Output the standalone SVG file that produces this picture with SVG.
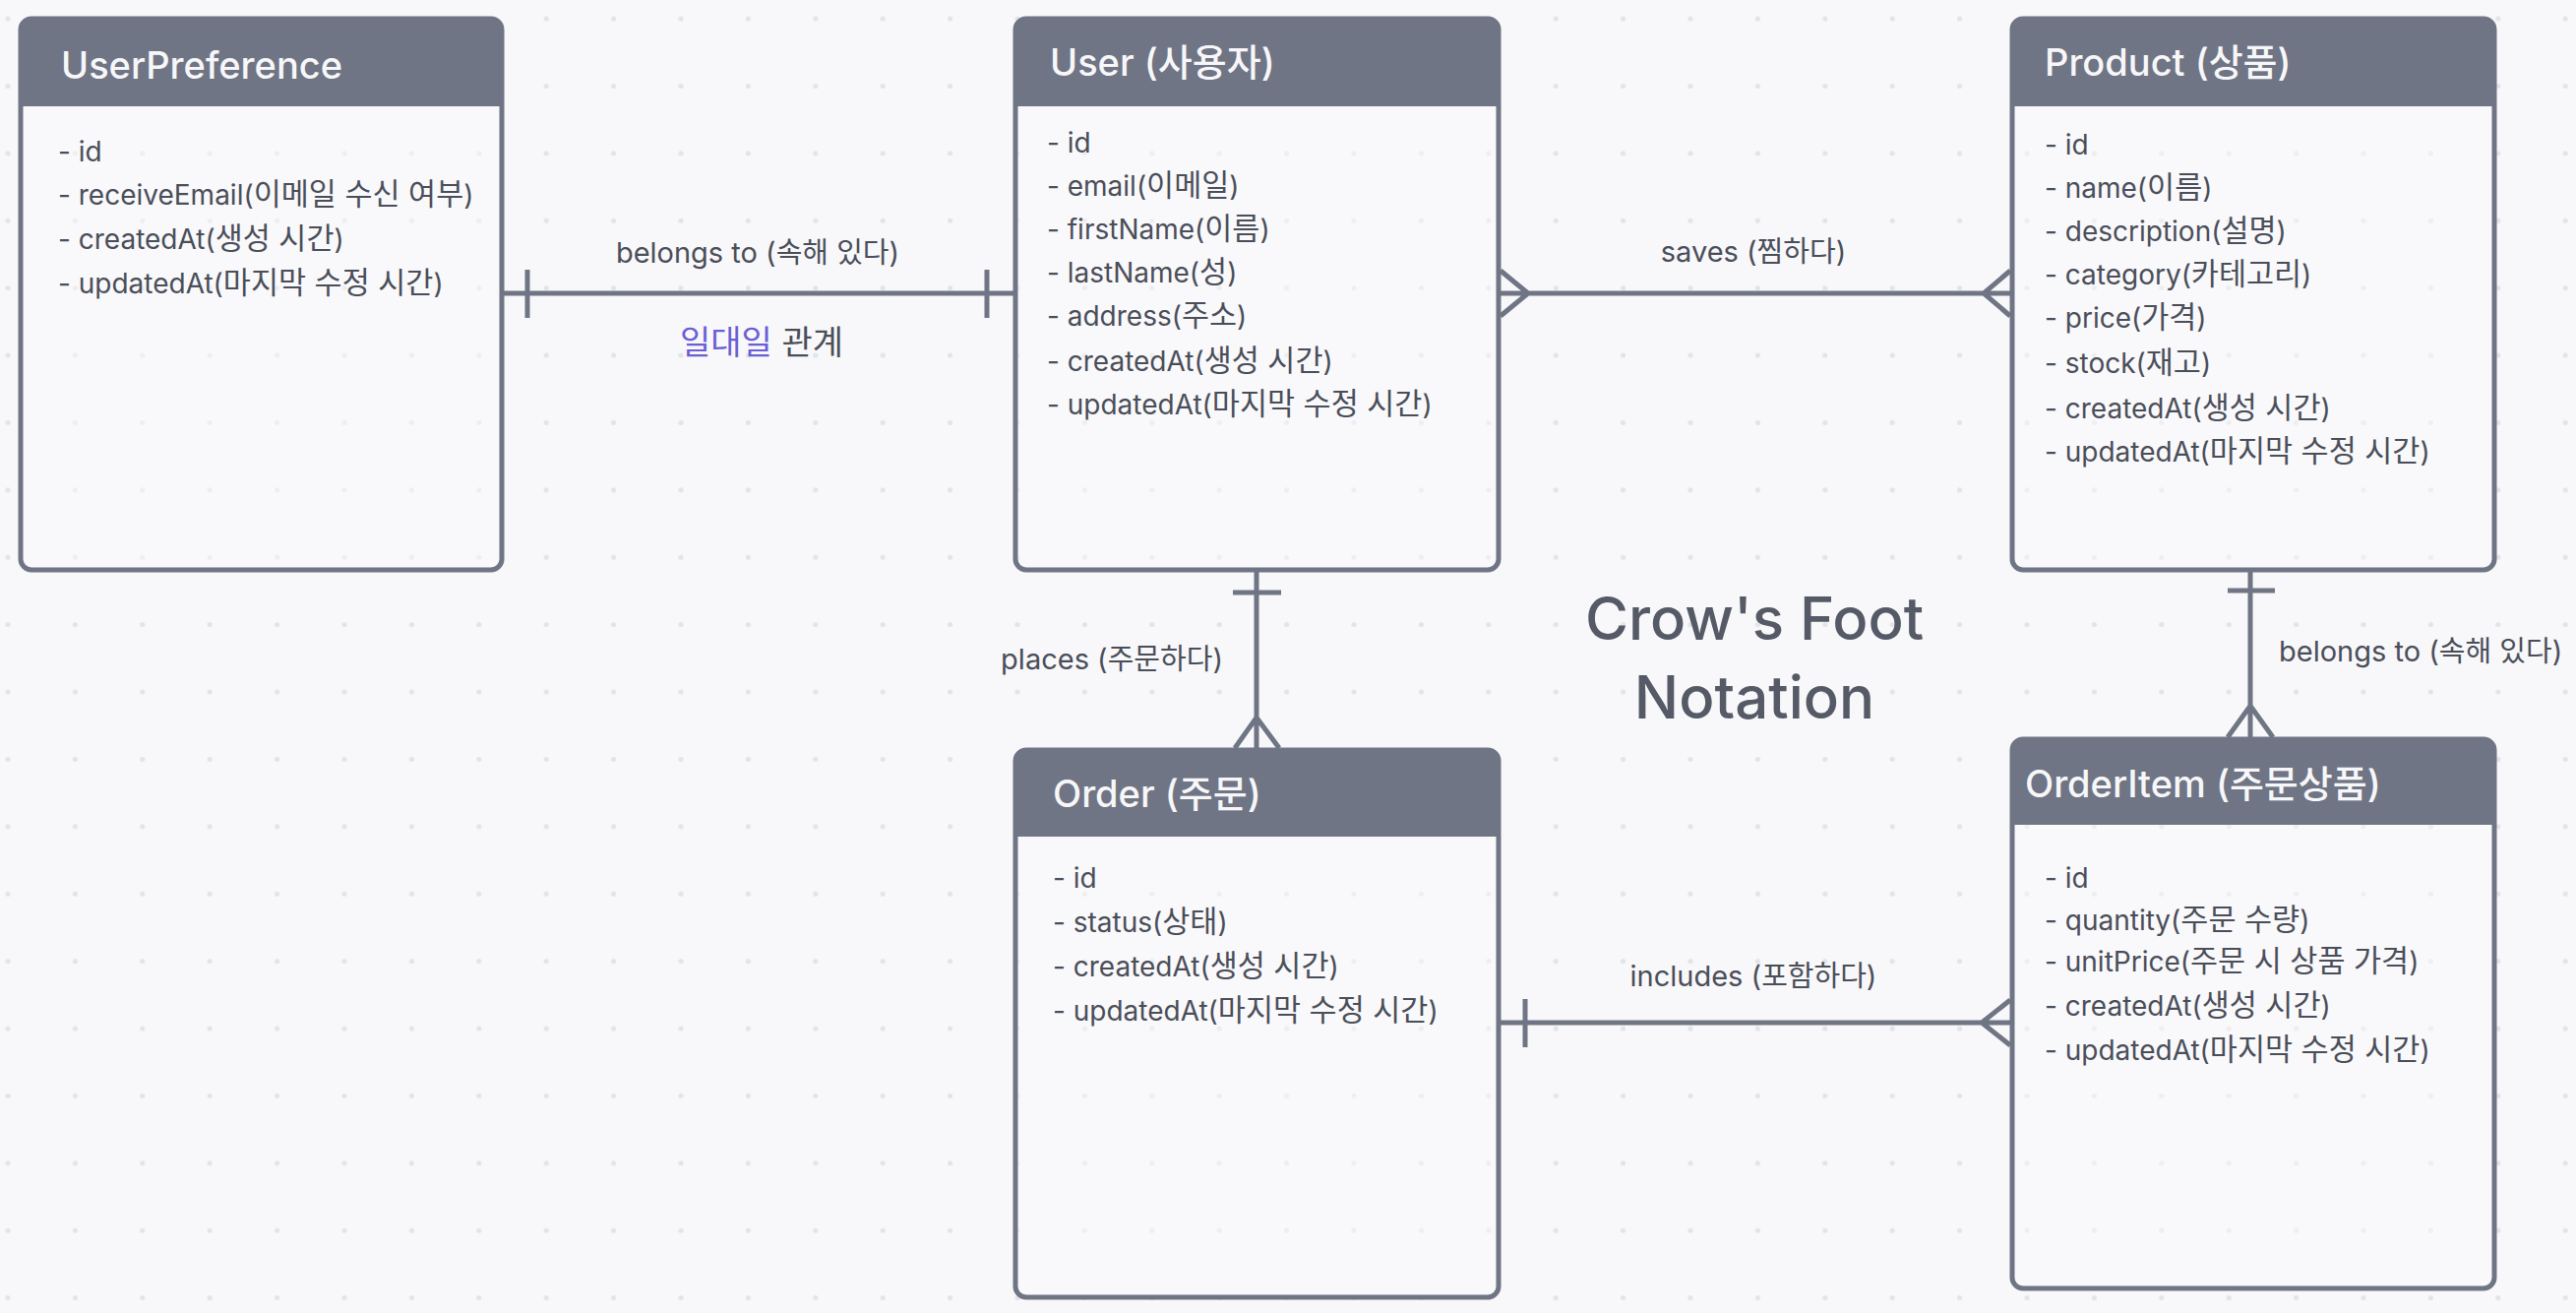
<svg xmlns="http://www.w3.org/2000/svg" width="2618" height="1334" viewBox="0 0 2618 1334">
<defs>
<pattern id="dots" x="-26.2" y="-15.2" width="68.4" height="68.4" patternUnits="userSpaceOnUse">
<circle cx="34.2" cy="34.2" r="2.6" fill="#e3e4e8"/>
</pattern>
<style>
text{font-family:"Inter","Noto Sans CJK KR",sans-serif;}
.body{fill:#fafbfc;fill-opacity:0.45;stroke:#6f7584;stroke-width:5;}
.head{fill:#6f7584;}
.title{font-size:38px;fill:#f7f7f9;font-weight:500;}
.row{font-size:28px;fill:#4a4e59;}
.k{font-size:30.5px;}
.lbl{font-size:29px;fill:#4a4e59;}
.rel{font-size:34px;fill:#4a4e59;}
.big{font-size:60px;fill:#555a66;font-weight:500;}
.ln{stroke:#6f7584;stroke-width:5;fill:none;stroke-linejoin:miter;}
</style>
</defs>
<rect width="2618" height="1334" fill="#f8f8fa"/>
<rect width="2618" height="1334" fill="url(#dots)"/>

<g id="connectors">
<path class="ln" d="M511,298 H1032 M536,274 V323 M1003,274 V323"/>
<path class="ln" d="M1523,298 H2045 M1525,275 L1553,298 L1525,321 M2043,275 L2016,298 L2043,321"/>
<path class="ln" d="M1277,579 V762 M1253,602 H1302 M1255,760 L1277,729 L1300,760"/>
<path class="ln" d="M2287,579 V751 M2264,600 H2312 M2264,749 L2287,717 L2310,749"/>
<path class="ln" d="M1523,1039 H2045 M1550,1015 V1064 M2043,1016 L2014,1039 L2043,1062"/>
<text class="lbl" x="770" y="267" text-anchor="middle">belongs to (속해 있다)</text>
<text class="rel" x="774" y="360" text-anchor="middle"><tspan fill="#6b5ed6">일대일</tspan> 관계</text>
<text class="lbl" x="1782" y="266" text-anchor="middle">saves (찜하다)</text>
<text class="lbl" x="1243" y="680" text-anchor="end">places (주문하다)</text>
<text class="lbl" x="2316" y="672">belongs to (속해 있다)</text>
<text class="lbl" x="1782" y="1002" text-anchor="middle">includes (포함하다)</text>
</g>

<g id="note">
<text class="big" x="1783" y="650" text-anchor="middle">Crow's Foot</text>
<text class="big" x="1783" y="730" text-anchor="middle">Notation</text>
</g>

<g id="UserPreference">
<rect class="body" x="21" y="19" width="489" height="560" rx="11"/>
<path class="head" d="M21,108 V30 Q21,19 32,19 H499 Q510,19 510,30 V108 Z"/>
<text class="title" x="62" y="80">UserPreference</text>
<text class="row" x="59" y="164">- id</text>
<text class="row" x="59" y="208">- receiveEmail(<tspan class="k">이메일 수신 여부</tspan>)</text>
<text class="row" x="59" y="253">- createdAt(<tspan class="k">생성 시간</tspan>)</text>
<text class="row" x="59" y="298">- updatedAt(<tspan class="k">마지막 수정 시간</tspan>)</text>
</g>

<g id="User">
<rect class="body" x="1032" y="19" width="491" height="560" rx="11"/>
<path class="head" d="M1032,108 V30 Q1032,19 1043,19 H1512 Q1523,19 1523,30 V108 Z"/>
<text class="title" x="1067" y="77">User (사용자)</text>
<text class="row" x="1064" y="155">- id</text>
<text class="row" x="1064" y="199">- email(<tspan class="k">이메일</tspan>)</text>
<text class="row" x="1064" y="243">- firstName(<tspan class="k">이름</tspan>)</text>
<text class="row" x="1064" y="287">- lastName(<tspan class="k">성</tspan>)</text>
<text class="row" x="1064" y="331">- address(<tspan class="k">주소</tspan>)</text>
<text class="row" x="1064" y="377">- createdAt(<tspan class="k">생성 시간</tspan>)</text>
<text class="row" x="1064" y="421">- updatedAt(<tspan class="k">마지막 수정 시간</tspan>)</text>
</g>

<g id="Product">
<rect class="body" x="2045" y="19" width="490" height="560" rx="11"/>
<path class="head" d="M2045,108 V30 Q2045,19 2056,19 H2524 Q2535,19 2535,30 V108 Z"/>
<text class="title" x="2078" y="77">Product (상품)</text>
<text class="row" x="2078" y="157">- id</text>
<text class="row" x="2078" y="201">- name(<tspan class="k">이름</tspan>)</text>
<text class="row" x="2078" y="245">- description(<tspan class="k">설명</tspan>)</text>
<text class="row" x="2078" y="289">- category(<tspan class="k">카테고리</tspan>)</text>
<text class="row" x="2078" y="333">- price(<tspan class="k">가격</tspan>)</text>
<text class="row" x="2078" y="379">- stock(<tspan class="k">재고</tspan>)</text>
<text class="row" x="2078" y="425">- createdAt(<tspan class="k">생성 시간</tspan>)</text>
<text class="row" x="2078" y="469">- updatedAt(<tspan class="k">마지막 수정 시간</tspan>)</text>
</g>

<g id="Order">
<rect class="body" x="1032" y="762" width="491" height="556" rx="11"/>
<path class="head" d="M1032,850 V773 Q1032,762 1043,762 H1512 Q1523,762 1523,773 V850 Z"/>
<text class="title" x="1070" y="820">Order (주문)</text>
<text class="row" x="1070" y="902">- id</text>
<text class="row" x="1070" y="947">- status(<tspan class="k">상태</tspan>)</text>
<text class="row" x="1070" y="992">- createdAt(<tspan class="k">생성 시간</tspan>)</text>
<text class="row" x="1070" y="1037">- updatedAt(<tspan class="k">마지막 수정 시간</tspan>)</text>
</g>

<g id="OrderItem">
<rect class="body" x="2045" y="751" width="490" height="558" rx="11"/>
<path class="head" d="M2045,838 V762 Q2045,751 2056,751 H2524 Q2535,751 2535,762 V838 Z"/>
<text class="title" x="2058" y="810">OrderItem (주문상품)</text>
<text class="row" x="2078" y="902">- id</text>
<text class="row" x="2078" y="945">- quantity(<tspan class="k">주문 수량</tspan>)</text>
<text class="row" x="2078" y="987">- unitPrice(<tspan class="k">주문 시 상품 가격</tspan>)</text>
<text class="row" x="2078" y="1032">- createdAt(<tspan class="k">생성 시간</tspan>)</text>
<text class="row" x="2078" y="1077">- updatedAt(<tspan class="k">마지막 수정 시간</tspan>)</text>
</g>
</svg>
